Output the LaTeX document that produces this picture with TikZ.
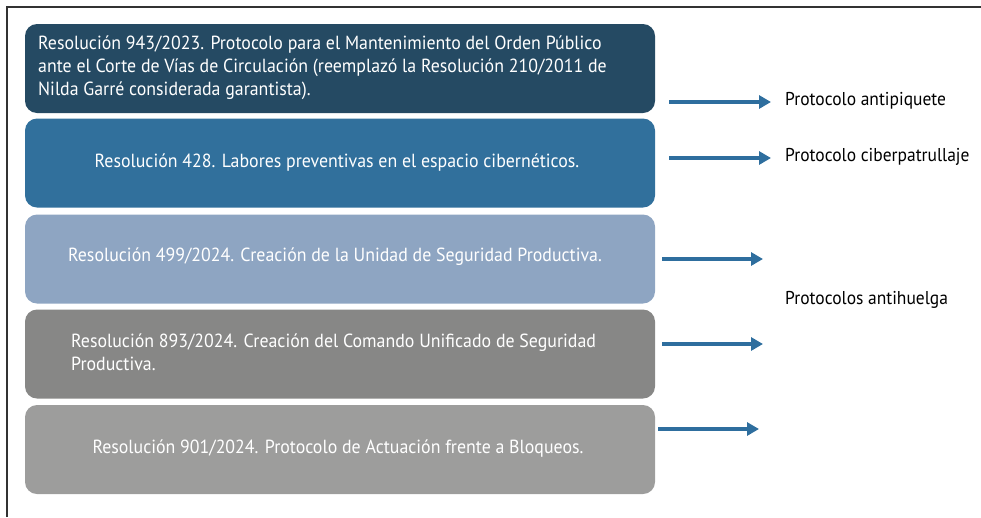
\documentclass[tikz,border=0pt]{standalone}
\usepackage{fontspec}
\setmainfont[FakeStretch=0.94]{PT Sans}
\usetikzlibrary{arrows.meta}
\definecolor{cA}{RGB}{37,74,99}
\definecolor{cB}{RGB}{49,112,156}
\definecolor{cC}{RGB}{142,165,194}
\definecolor{cD}{RGB}{135,135,134}
\definecolor{cE}{RGB}{157,157,156}
\definecolor{cArr}{RGB}{46,110,158}
\definecolor{cFrame}{RGB}{50,50,50}
\tikzset{
  resbox/.style={rounded corners=12pt, minimum width=630pt, minimum height=89pt, inner sep=0pt, draw=none},
  restext/.style={text=white, font=\fontsize{19}{23}\selectfont, align=left, inner sep=0pt},
  protext/.style={text=black, font=\fontsize{18.6}{23}\selectfont, anchor=west, inner sep=0pt},
  arr/.style={draw=cArr, line width=4pt, -{Triangle[length=12pt,width=13pt]}}
}
\begin{document}
\begin{tikzpicture}[x=1pt,y=-1pt]
\useasboundingbox (0,0) rectangle (981,517);
\draw[cFrame, line width=1.5pt] (7,517) -- (7,7) -- (981,7);
% boxes
\node[resbox, fill=cA] (b1) at (340,68.5) {};
\node[resbox, fill=cB] (b2) at (340,163) {};
\node[resbox, fill=cC] (b3) at (340,259) {};
\node[resbox, fill=cD] (b4) at (340,354) {};
\node[resbox, fill=cE] (b5) at (340,449.5) {};
% texts
\node[restext, anchor=west] (t1) at (38,68) {Resolución 943/2023. Protocolo para el Mantenimiento del Orden Público\\ante el Corte de Vías de Circulación (reemplazó la Resolución 210/2011 de\\Nilda Garré considerada garantista).};
\node[restext] (t2) at (337,163) {Resolución 428. Labores preventivas en el espacio cibernéticos.};
\node[restext] (t3) at (335,257) {Resolución 499/2024. Creación de la Unidad de Seguridad Productiva.};
\node[restext, anchor=west] (t4) at (71,352) {Resolución 893/2024. Creación del Comando Unificado de Seguridad\\Productiva.};
\node[restext] (t5) at (338,449) {Resolución 901/2024. Protocolo de Actuación frente a Bloqueos.};
% labels
\node[protext] (p1) at (785,101) {Protocolo antipiquete};
\node[protext] (p2) at (785,157) {Protocolo ciberpatrullaje};
\node[protext] (p3) at (785,300) {Protocolos antihuelga};
% arrows
\coordinate (a1s) at (669,102); \coordinate (a1e) at (771,102);
\coordinate (a2s) at (669,158); \coordinate (a2e) at (771,158);
\coordinate (a3s) at (662,259); \coordinate (a3e) at (763,259);
\coordinate (a4s) at (662,344); \coordinate (a4e) at (763,344);
\coordinate (a5s) at (658,429); \coordinate (a5e) at (759,429);
\draw[arr] (a1s) -- (a1e);
\draw[arr] (a2s) -- (a2e);
\draw[arr] (a3s) -- (a3e);
\draw[arr] (a4s) -- (a4e);
\draw[arr] (a5s) -- (a5e);
\end{tikzpicture}
\end{document}
